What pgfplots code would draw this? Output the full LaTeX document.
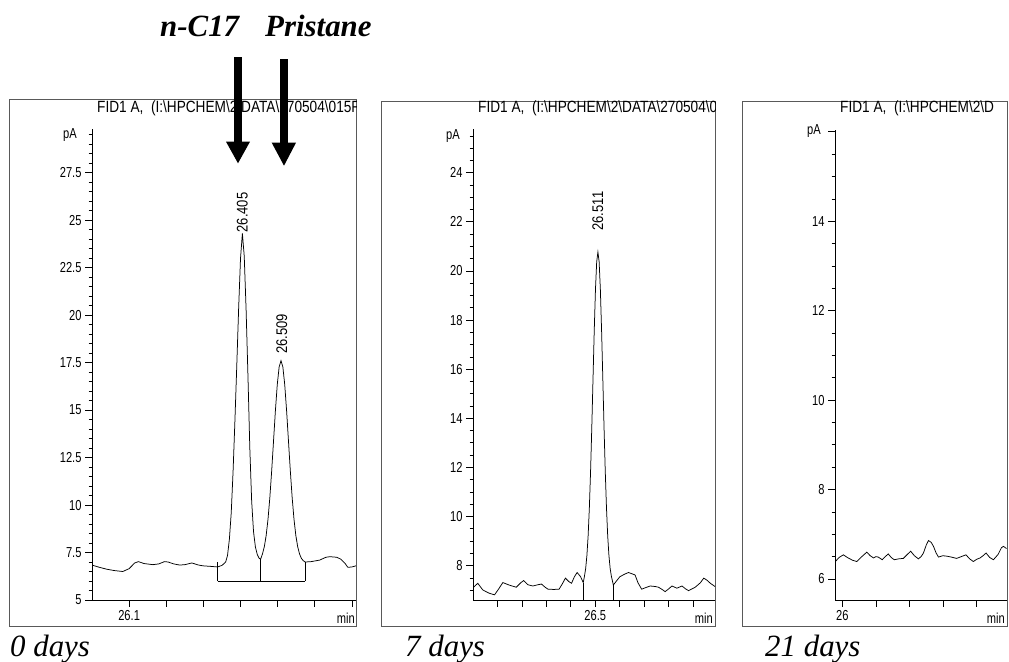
\documentclass[border=0pt]{standalone}
\usepackage{fontspec}
\setmainfont{Liberation Serif}
\newfontfamily\cf[FakeStretch=0.77]{Liberation Sans}
\newfontfamily\tf[FakeStretch=0.84]{Liberation Sans}
\usepackage{pgfplots}
\pgfplotsset{compat=1.18}
\newcommand{\bs}{\textbackslash}
\pgfplotsset{chem/.style={
  scale only axis, height=471bp,
  axis x line*=bottom, axis y line*=left,
  axis line style={line width=0.8bp, black},
  tick align=outside,
  major tick length=7bp, minor tick length=3.5bp,
  every tick/.style={black, line width=0.7bp},
  every minor tick/.style={black, line width=0.7bp},
  ticklabel style={font=\cf\fontsize{14.5}{16}\selectfont},
  /pgf/number format/assume math mode=true,
  yticklabel style={/pgf/number format/fixed},
  clip=true,
}}
\begin{document}
\begin{tikzpicture}[x=1bp,y=1bp]
\useasboundingbox (0,0) rectangle (1009,662);
% ---------- frames and titles ----------
\draw[black!65, line width=0.8bp] (9,36) rectangle (356,563);
\draw[black!65, line width=0.8bp] (381,36) rectangle (715,561);
\draw[black!65, line width=0.8bp] (742,36) rectangle (1007,561);
\begin{scope}
\clip (9,36) rectangle (356,563);
\node[anchor=base west, inner sep=0, font=\tf\fontsize{16.3}{18}\selectfont] at (97,549) {FID1 A,\ \ (I:\bs HPCHEM\bs 2\bs DATA\bs 270504\bs 015F0101.D)};
\end{scope}
\begin{scope}
\clip (381,36) rectangle (715,561);
\node[anchor=base west, inner sep=0, font=\tf\fontsize{16.3}{18}\selectfont] at (478,549) {FID1 A,\ \ (I:\bs HPCHEM\bs 2\bs DATA\bs 270504\bs 022F0101.D)};
\end{scope}
\begin{scope}
\clip (742,36) rectangle (1007,561);
\node[anchor=base west, inner sep=0, font=\tf\fontsize{16.3}{18}\selectfont] at (840,549) {FID1 A,\ \ (I:\bs HPCHEM\bs 2\bs D};
\end{scope}
% ---------- panel 1 : 0 days ----------
\begin{axis}[chem, at={(92bp,62bp)}, anchor=south west, width=264bp,
  xmin=26.0, xmax=26.711, ymin=5, ymax=29.8,
  xtick={26.1,26.2,26.3,26.4,26.5,26.6,26.7}, xticklabels={26.1,,,,,,},
  ytick={5,7.5,10,12.5,15,17.5,20,22.5,25,27.5},
  minor ytick={5.5,6,...,29.5}]
\addplot[black, line width=0.75bp] coordinates {
(26.000,6.84) (26.02,6.72) (26.04,6.62) (26.06,6.55) (26.083,6.50) (26.10,6.65)
(26.115,6.95) (26.125,7.02) (26.14,6.92) (26.164,6.86) (26.18,6.90) (26.195,7.02)
(26.205,7.00) (26.22,6.90) (26.236,6.84) (26.25,6.86) (26.269,6.95) (26.285,6.85)
(26.298,6.80) (26.32,6.77) (26.338,6.74) (26.350,6.82) (26.360,7.0) (26.365,7.35)
(26.370,8.2) (26.375,9.6) (26.380,11.8) (26.385,14.5) (26.390,17.4) (26.395,20.4)
(26.400,23.0) (26.405,24.3) (26.410,23.1) (26.415,20.3) (26.420,16.8) (26.425,13.0)
(26.430,10.2) (26.435,8.6) (26.440,7.8) (26.445,7.4) (26.450,7.2) (26.454,7.14)
(26.459,7.42) (26.464,7.80) (26.469,8.39) (26.474,9.25) (26.479,10.41) (26.484,11.83)
(26.489,13.41) (26.494,14.99) (26.499,16.35) (26.504,17.27) (26.509,17.6) (26.514,17.27)
(26.519,16.35) (26.524,14.99) (26.529,13.41) (26.534,11.83) (26.539,10.41) (26.544,9.25)
(26.549,8.39) (26.554,7.80) (26.559,7.42) (26.564,7.19) (26.569,7.07) (26.574,7.0)
(26.59,7.02) (26.613,7.1) (26.63,7.25) (26.641,7.28) (26.659,7.25) (26.67,7.15)
(26.681,6.94) (26.689,6.72) (26.70,6.74) (26.711,6.8)};
\addplot[black, line width=0.7bp] coordinates {(26.338,6.0) (26.574,6.0)};
\addplot[black, line width=0.7bp] coordinates {(26.338,6.0) (26.338,7.0)};
\addplot[black, line width=0.7bp] coordinates {(26.454,6.0) (26.454,7.14)};
\addplot[black, line width=0.7bp] coordinates {(26.574,6.0) (26.574,7.0)};
\node[rotate=90, anchor=west, inner sep=1bp, font=\tf\fontsize{15.5}{17}\selectfont] at (axis cs:26.405,24.3) {26.405};
\node[rotate=90, anchor=west, inner sep=1bp, font=\tf\fontsize{15.5}{17}\selectfont] at (axis cs:26.511,17.9) {26.509};
\end{axis}
% ---------- panel 2 : 7 days ----------
\begin{axis}[chem, at={(473bp,62bp)}, anchor=south west, width=242bp,
  xmin=26.0, xmax=26.99, ymin=6.6, ymax=25.78,
  xtick={26.1,26.2,26.3,26.4,26.5,26.6,26.7,26.8,26.9}, xticklabels={,,,,26.5,,,,},
  ytick={8,10,...,24},
  minor ytick={7,7.5,...,25.5}]
\addplot[black, line width=0.75bp] coordinates {
(26.000,7.10) (26.0195,7.28) (26.04,7.01) (26.065,6.88) (26.088,6.81) (26.105,7.05)
(26.122,7.31) (26.15,7.20) (26.177,7.12) (26.195,7.30) (26.207,7.39) (26.225,7.22)
(26.245,7.17) (26.265,7.22) (26.28,7.25) (26.295,7.12) (26.307,7.04) (26.33,7.03)
(26.352,7.04) (26.365,7.25) (26.378,7.49) (26.392,7.35) (26.403,7.28) (26.415,7.55)
(26.426,7.72) (26.44,7.55) (26.451,7.31) (26.456,7.57) (26.461,7.89) (26.466,8.42)
(26.471,9.22) (26.476,10.36) (26.481,11.85) (26.486,13.65) (26.491,15.63) (26.496,17.58)
(26.501,19.25) (26.506,20.37) (26.511,20.77) (26.516,20.37) (26.521,19.25) (26.526,17.58)
(26.531,15.63) (26.536,13.65) (26.541,11.85) (26.546,10.36) (26.551,9.22) (26.556,8.42)
(26.561,7.89) (26.566,7.57) (26.571,7.35) (26.574,7.21) (26.585,7.35) (26.601,7.55)
(26.62,7.65) (26.636,7.72) (26.663,7.62) (26.675,7.3) (26.69,7.04) (26.705,7.10)
(26.725,7.17) (26.745,7.15) (26.759,7.12) (26.775,7.02) (26.786,6.94) (26.8,7.05)
(26.814,7.17) (26.834,7.08) (26.855,7.17) (26.87,7.05) (26.882,6.98) (26.895,7.05)
(26.909,7.12) (26.93,7.30) (26.944,7.49) (26.958,7.40) (26.971,7.28) (26.99,7.15)};
\addplot[black, line width=0.7bp] coordinates {(26.451,6.6) (26.451,7.31)};
\addplot[black, line width=0.7bp] coordinates {(26.574,6.6) (26.574,7.21)};
\node[rotate=90, anchor=west, inner sep=1bp, font=\tf\fontsize{15.5}{17}\selectfont] at (axis cs:26.511,21.6) {26.511};
\end{axis}
% ---------- panel 3 : 21 days ----------
\begin{axis}[chem, at={(835bp,62bp)}, anchor=south west, width=172bp, height=470bp,
  xmin=25.978, xmax=26.4916, ymin=5.53, ymax=16.04,
  xtick={26.0,26.1,26.2,26.3,26.4}, xticklabels={26,,,,},
  ytick={6,8,10,12,14,16}, yticklabels={6,8,10,12,14,},
  minor ytick={6.5,7,...,15.5}]
\addplot[black, line width=0.75bp] coordinates {
(25.979,6.39) (25.99,6.48) (26.003,6.54) (26.015,6.48) (26.03,6.42) (26.043,6.39)
(26.058,6.50) (26.073,6.60) (26.083,6.52) (26.093,6.47) (26.1,6.50) (26.107,6.49)
(26.119,6.43) (26.128,6.50) (26.137,6.56) (26.146,6.48) (26.155,6.43) (26.168,6.45)
(26.182,6.46) (26.194,6.55) (26.204,6.62) (26.215,6.52) (26.227,6.45) (26.235,6.50)
(26.242,6.58) (26.25,6.75) (26.257,6.86) (26.265,6.82) (26.272,6.73) (26.28,6.58)
(26.287,6.49) (26.3,6.52) (26.312,6.51) (26.325,6.49) (26.341,6.46) (26.355,6.50)
(26.369,6.54) (26.38,6.45) (26.391,6.39) (26.401,6.44) (26.411,6.47) (26.42,6.52)
(26.429,6.58) (26.44,6.48) (26.451,6.43) (26.465,6.55) (26.475,6.70) (26.481,6.73)
(26.49,6.68)};
\end{axis}
% ---------- pA and min labels ----------
\node[anchor=east, inner sep=0, font=\cf\fontsize{14.5}{16}\selectfont] at (77,527) {pA};
\node[anchor=east, inner sep=0, font=\cf\fontsize{14.5}{16}\selectfont] at (460,526) {pA};
\node[anchor=east, inner sep=0, font=\cf\fontsize{14.5}{16}\selectfont] at (821,531) {pA};
\node[anchor=base east, inner sep=0, font=\cf\fontsize{14.5}{16}\selectfont] at (355,38) {min};
\node[anchor=base east, inner sep=0, font=\cf\fontsize{14.5}{16}\selectfont] at (713,38) {min};
\node[anchor=base east, inner sep=0, font=\cf\fontsize{14.5}{16}\selectfont] at (1005,38) {min};
% ---------- arrows and compound names ----------
\fill[black] (234,605) rectangle (242.3,520);
\fill[black] (226,520.3) -- (250,520.3) -- (238,498.7) -- cycle;
\fill[black] (280,603) rectangle (287.7,519);
\fill[black] (271.7,519.3) -- (296,519.3) -- (284,496.3) -- cycle;
\node[anchor=base west, inner sep=0, font=\fontsize{31}{33}\selectfont\bfseries\itshape] at (160,625) {n-C17};
\node[anchor=base west, inner sep=0, font=\fontsize{31}{33}\selectfont\bfseries\itshape] at (265,625) {Pristane};
% ---------- day labels ----------
\node[anchor=base west, inner sep=0, font=\fontsize{31}{33}\selectfont\itshape] at (10,5) {0 days};
\node[anchor=base west, inner sep=0, font=\fontsize{31}{33}\selectfont\itshape] at (405,5) {7 days};
\node[anchor=base west, inner sep=0, font=\fontsize{31}{33}\selectfont\itshape] at (765,5) {21 days};
\end{tikzpicture}
\end{document}
